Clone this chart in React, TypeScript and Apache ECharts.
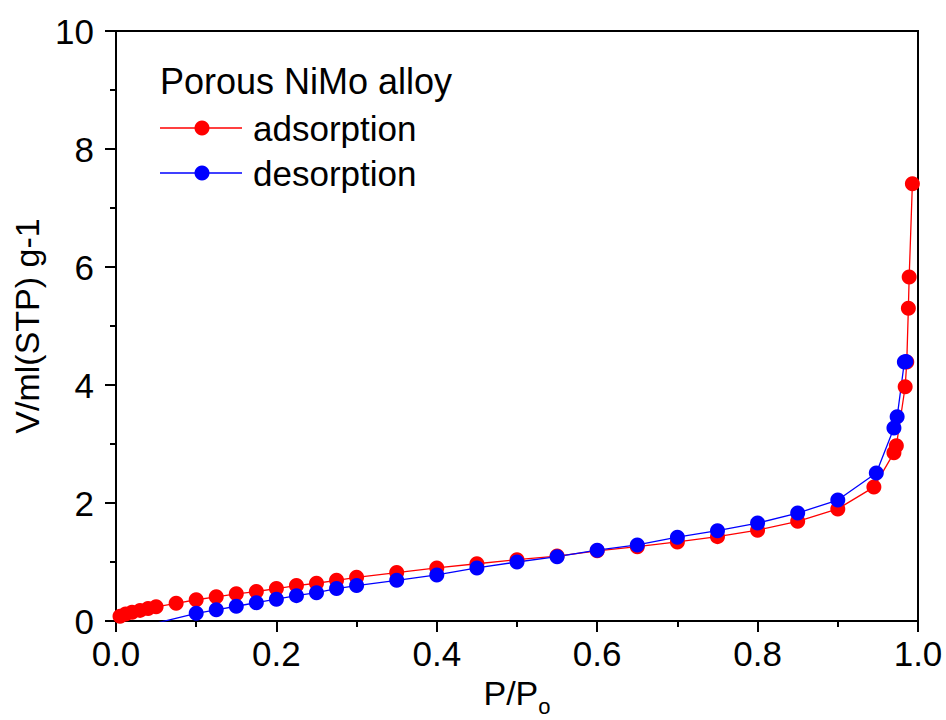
import React, { useEffect, useRef } from "react";
import * as echarts from "echarts";

const adsorptionX = [0.005, 0.012, 0.02, 0.03, 0.04, 0.05, 0.075, 0.1, 0.125, 0.15, 0.175, 0.2, 0.225, 0.25, 0.275, 0.3, 0.35, 0.4, 0.45, 0.5, 0.55, 0.6, 0.65, 0.7, 0.75, 0.8, 0.85, 0.9, 0.945, 0.97, 0.973, 0.984, 0.986, 0.988, 0.989, 0.993];
const adsorptionY = [0.08, 0.12, 0.15, 0.18, 0.21, 0.24, 0.3, 0.36, 0.41, 0.46, 0.5, 0.55, 0.6, 0.64, 0.69, 0.74, 0.82, 0.9, 0.97, 1.04, 1.1, 1.19, 1.26, 1.34, 1.43, 1.54, 1.69, 1.9, 2.27, 2.85, 2.97, 3.97, 4.39, 5.3, 5.83, 7.41];

const desorptionX = [0.985, 0.983, 0.974, 0.97, 0.948, 0.9, 0.85, 0.8, 0.75, 0.7, 0.65, 0.6, 0.55, 0.5, 0.45, 0.4, 0.35, 0.3, 0.275, 0.25, 0.225, 0.2, 0.175, 0.15, 0.125, 0.1, 0.04];
const desorptionY = [4.4, 4.39, 3.46, 3.27, 2.51, 2.05, 1.83, 1.66, 1.53, 1.42, 1.29, 1.2, 1.09, 1.0, 0.9, 0.78, 0.69, 0.6, 0.55, 0.48, 0.43, 0.37, 0.31, 0.25, 0.19, 0.13, -0.07];

const legendTitle = "Porous NiMo alloy";
const seriesNames = ["adsorption", "desorption"];
const seriesColors = ["#ff0000", "#0000ff"];

const FONT = "Liberation Sans, Arial, sans-serif";

export default function App() {
  const ref = useRef<HTMLDivElement>(null);
  useEffect(() => {
    if (!ref.current) return;
    const chart = echarts.init(ref.current, null, { renderer: "svg" });
    const ads = adsorptionX.map((x, i) => [x, adsorptionY[i]]);
    const des = desorptionX.map((x, i) => [x, desorptionY[i]]);
    const legendRows = [128, 173];
    chart.setOption({
      animation: false,
      backgroundColor: "#ffffff",
      grid: {
        left: 116,
        right: 28,
        top: 31,
        bottom: 99,
        show: true,
        borderColor: "#000",
        borderWidth: 2,
        containLabel: false,
        outerBoundsMode: "none",
      },
      xAxis: {
        type: "value",
        min: 0,
        max: 1,
        interval: 0.2,
        splitLine: { show: false },
        axisLine: { lineStyle: { color: "#000", width: 2 } },
        axisTick: { length: 11, lineStyle: { color: "#000", width: 2 } },
        minorTick: { show: true, splitNumber: 2, length: 6, lineStyle: { color: "#000", width: 2 } },
        axisLabel: {
          fontSize: 35,
          color: "#000",
          fontFamily: FONT,
          margin: 15,
          formatter: (v: number) => v.toFixed(1),
        },
        name: "{a|P/P}{b|o}",
        nameLocation: "middle",
        nameGap: 49,
        nameTextStyle: {
          rich: {
            a: { fontSize: 34, fontFamily: FONT, color: "#000", verticalAlign: "top" },
            b: { fontSize: 22, fontFamily: FONT, color: "#000", verticalAlign: "bottom", padding: [20, 0, 0, 0] },
          },
        },
      },
      yAxis: {
        type: "value",
        min: 0,
        max: 10,
        interval: 2,
        splitLine: { show: false },
        axisLine: { lineStyle: { color: "#000", width: 2 } },
        axisTick: { length: 11, lineStyle: { color: "#000", width: 2 } },
        minorTick: { show: true, splitNumber: 2, length: 6, lineStyle: { color: "#000", width: 2 } },
        axisLabel: { fontSize: 35, color: "#000", fontFamily: FONT, margin: 22 },
        name: "V/ml(STP) g-1",
        nameLocation: "middle",
        nameGap: 68,
        nameTextStyle: { fontSize: 34, color: "#000", fontFamily: FONT },
      },
      series: [
        {
          name: seriesNames[0],
          type: "line",
          data: ads,
          symbol: "circle",
          symbolSize: 15,
          itemStyle: { color: seriesColors[0] },
          lineStyle: { color: seriesColors[0], width: 1.3 },
        },
        {
          name: seriesNames[1],
          type: "line",
          data: des,
          symbol: "circle",
          symbolSize: 15,
          itemStyle: { color: seriesColors[1] },
          lineStyle: { color: seriesColors[1], width: 1.3 },
        },
      ],
      graphic: [
        {
          type: "text",
          left: 160,
          top: 63,
          style: { text: legendTitle, fontSize: 36, fontFamily: FONT, fill: "#000" },
        },
        ...seriesNames.flatMap((n, i) => [
          {
            type: "line",
            shape: { x1: 160, y1: legendRows[i], x2: 242, y2: legendRows[i] },
            style: { stroke: seriesColors[i], lineWidth: 1.3 },
          },
          {
            type: "circle",
            shape: { cx: 202, cy: legendRows[i], r: 7.5 },
            style: { fill: seriesColors[i] },
          },
          {
            type: "text",
            left: 253,
            top: legendRows[i] - 17,
            style: { text: n, fontSize: 35, fontFamily: FONT, fill: "#000" },
          },
        ]),
      ],
    });
    return () => chart.dispose();
  }, []);
  return (
    <div
      ref={ref}
      style={{ position: "absolute", left: 0, top: 0, width: 946, height: 720 }}
    />
  );
}
